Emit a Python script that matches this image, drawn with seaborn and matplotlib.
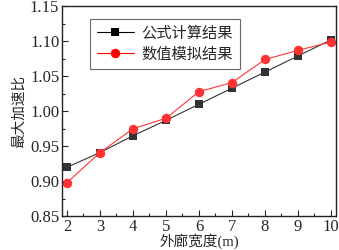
import matplotlib
matplotlib.use("Agg")
import matplotlib.pyplot as plt
import seaborn as sns
import pandas as pd
from matplotlib.ticker import MultipleLocator, FormatStrFormatter

widths = [2, 3, 4, 5, 6, 7, 8, 9, 10]
formula = [0.920, 0.941, 0.965, 0.987, 1.010, 1.033, 1.056, 1.079, 1.102]
simulated = [0.898, 0.941, 0.975, 0.990, 1.028, 1.041, 1.074, 1.087, 1.099]
series_names = ["公式计算结果", "数值模拟结果"]

sns.set_style("ticks")
plt.rcParams['font.family'] = ['Liberation Serif', 'Noto Sans CJK SC']
plt.rcParams['xtick.direction'] = 'in'
plt.rcParams['ytick.direction'] = 'in'

df = pd.DataFrame({
    "x": widths * 2,
    "y": formula + simulated,
    "s": [series_names[0]] * len(widths) + [series_names[1]] * len(widths),
})

fig = plt.figure(figsize=(3.39, 2.5), dpi=100)
ax = fig.add_axes([0.183, 0.135, 0.808, 0.84])

sns.lineplot(data=df, x="x", y="y", hue="s", style="s",
             palette={series_names[0]: "#000000", series_names[1]: "#ff0000"},
             markers={series_names[0]: "s", series_names[1]: "o"},
             dashes=False, linewidth=0.8, markersize=6.5, markeredgewidth=0,
             ax=ax)
for line, c, ms in zip(ax.get_lines()[:2], ["#333333", "#ff3333"], [5.5, 6.8]):
    line.set_color(c)
    line.set_markersize(ms)

ax.set_xlim(1.85, 10.15)
ax.set_ylim(0.85, 1.15)
ax.xaxis.set_major_locator(MultipleLocator(1))
ax.xaxis.set_minor_locator(MultipleLocator(0.5))
ax.yaxis.set_major_locator(MultipleLocator(0.05))
ax.yaxis.set_minor_locator(MultipleLocator(0.025))
ax.yaxis.set_major_formatter(FormatStrFormatter('%.2f'))
ax.tick_params(which='major', length=4, width=0.8, labelsize=12, pad=2)
ax.tick_params(which='minor', length=2.5, width=0.8)
for sp in ax.spines.values():
    sp.set_visible(True)
    sp.set_linewidth(1.0)
    sp.set_color("#222222")

ax.set_xlabel("外廊宽度(m)", fontsize=10.5, labelpad=-1)
ax.set_ylabel("最大加速比", fontsize=10.5, labelpad=3)

leg = ax.legend(loc="upper left", bbox_to_anchor=(0.075, 0.975), fontsize=11,
                frameon=True, fancybox=False, edgecolor="#444444",
                handlelength=2.4, handletextpad=0.5, borderpad=0.45,
                labelspacing=0.45)
leg.set_title(None)
leg.get_frame().set_linewidth(0.8)
for h, ms in zip(leg.get_lines(), [5.5, 6.8]):
    h.set_markersize(ms)

fig.savefig("out.png", dpi=100)
